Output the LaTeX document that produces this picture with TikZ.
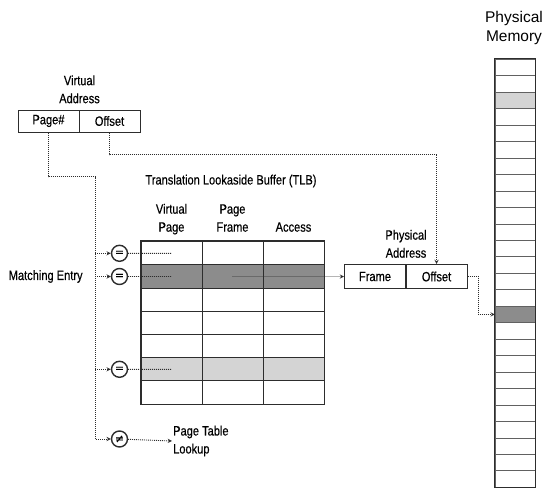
\documentclass[tikz,border=0pt]{standalone}
\usepackage{fontspec}
\setmainfont{Liberation Sans}
\newfontfamily\condfont[FakeStretch=0.82,FakeBold=0.4]{Liberation Sans}
\newfontfamily\symfont[FakeBold=0.6]{DejaVu Sans}
\usepackage{xcolor}
\usepackage{tikz}
\usetikzlibrary{shapes,arrows,positioning,calc}
\definecolor{linegray}{RGB}{45,45,45}
\definecolor{darkcell}{RGB}{140,140,140}
\definecolor{lightcell}{RGB}{212,212,212}

\begin{document}
\begin{tikzpicture}[x=1pt, y=-1pt, >=stealth,
            font=\condfont\fontsize{13.5}{18}\selectfont,
            field/.style={rectangle, draw=linegray, line width=1pt, minimum width=61pt, minimum height=22pt, inner sep=0pt},
            cell/.style={rectangle, draw=linegray, line width=0.9pt, minimum width=61pt, minimum height=23.2pt, inner sep=0pt},
            memcell/.style={rectangle, draw=linegray!75, line width=0.7pt, minimum width=40pt, minimum height=16.46pt, inner sep=0pt},
            match/.style={circle, draw=linegray, line width=1.4pt, minimum size=16pt, inner sep=0pt, font=\symfont\fontsize{11}{11}\selectfont},
            dotline/.style={linegray, line width=0.9pt, dash pattern=on 0.9pt off 1.1pt},
            txt/.style={align=center, inner sep=1pt}]
            \useasboundingbox (0,0) rectangle (549,503);

            % Virtual address
            \node[field] (pageNum) at (48.5,121) {Page\#};
            \node[field] (offsetField) at (109.5,121) {Offset};
            \node[txt, above=5pt of pageNum.north east] (virtAddr) {Virtual\\Address};

            % TLB table
            \node[txt] (tlbTitle) at (231,181) {Translation Lookaside Buffer (TLB)};
            \foreach \r in {1,...,7} {
                \foreach \c in {1,2,3} {
                    \ifnum\r=2 \def\cellfill{darkcell}\else\ifnum\r=6 \def\cellfill{lightcell}\else\def\cellfill{white}\fi\fi
                    \node[cell, fill=\cellfill] (cell-\r-\c) at ({110.5+61*\c},{241.7+23.2*(\r-0.5)}) {};
                }
            }
            \draw[linegray, line width=1.8pt] (cell-1-1.north west) rectangle (cell-7-3.south east);
            \node[txt, anchor=south, above=3pt of cell-1-1.north] (headVirt) {Virtual\\Page\strut};
            \node[txt, anchor=south, above=3pt of cell-1-2.north] (headFrame) {Page\\Frame\strut};
            \node[txt, anchor=south, above=3pt of cell-1-3.north] (headAccess) {Access\strut};

            % Comparators
            \node[match] (eqFirst) at (119.5,253.3) {=};
            \node[match] (eqHit) at (119.5,276.5) {=};
            \node[match] (eqLight) at (119.5,369.3) {=};
            \node[match] (noMatch) at (119.5,439) {≠};
            \node[txt, left=27pt of eqHit] (matching) {Matching Entry};
            \node[txt, align=left, anchor=west] (lookup) at (172,441) {Page Table\\Lookup};

            % Physical address
            \node[field, minimum height=24pt] (physFrame) at (375,276.5) {Frame};
            \node[field, minimum height=24pt] (physOffset) at (436.5,276.5) {Offset};
            \node[txt, above=5pt of physFrame.north east] (physAddr) {Physical\\Address};

            % Physical memory
            \node[txt, font=\fontsize{15.5}{19}\selectfont] (memTitle) at (514,28) {Physical\\Memory};
            \foreach \i in {1,...,26} {
                \ifnum\i=3 \def\cellfill{lightcell}\else\ifnum\i=16 \def\cellfill{darkcell}\else\def\cellfill{white}\fi\fi
                \node[memcell, fill=\cellfill] (mem-\i) at (515.2,{59.3+16.46*(\i-0.5)}) {};
            }
            \draw[linegray, line width=1pt] (mem-1.north west) rectangle (mem-26.south east);

            % Dotted connectors
            \coordinate (split) at (95,176.5);
            \draw[dotline, ->] (pageNum.south) |- (split) |- (noMatch);
            \draw[dotline, ->] (split |- eqFirst) -- (eqFirst);
            \draw[dotline, ->] (split |- eqHit) -- (eqHit);
            \draw[dotline, ->] (split |- eqLight) -- (eqLight);
            \draw[dotline] (eqFirst) -- (cell-1-1.center);
            \draw[dotline] (eqHit) -- (cell-2-1.center);
            \draw[dotline] (eqLight) -- (cell-6-1.center);
            \draw[dotline, ->] (noMatch) -- (lookup.west);
            \draw[dotline, ->] (cell-2-2.center) -- (physFrame);
            \draw[dotline, ->] (offsetField.south) |- ++(0,22) -| (physOffset.north);
            \draw[dotline, ->] (physOffset.east) -- ++(11,0) |- (mem-16.west);
        \end{tikzpicture}
\end{document}
